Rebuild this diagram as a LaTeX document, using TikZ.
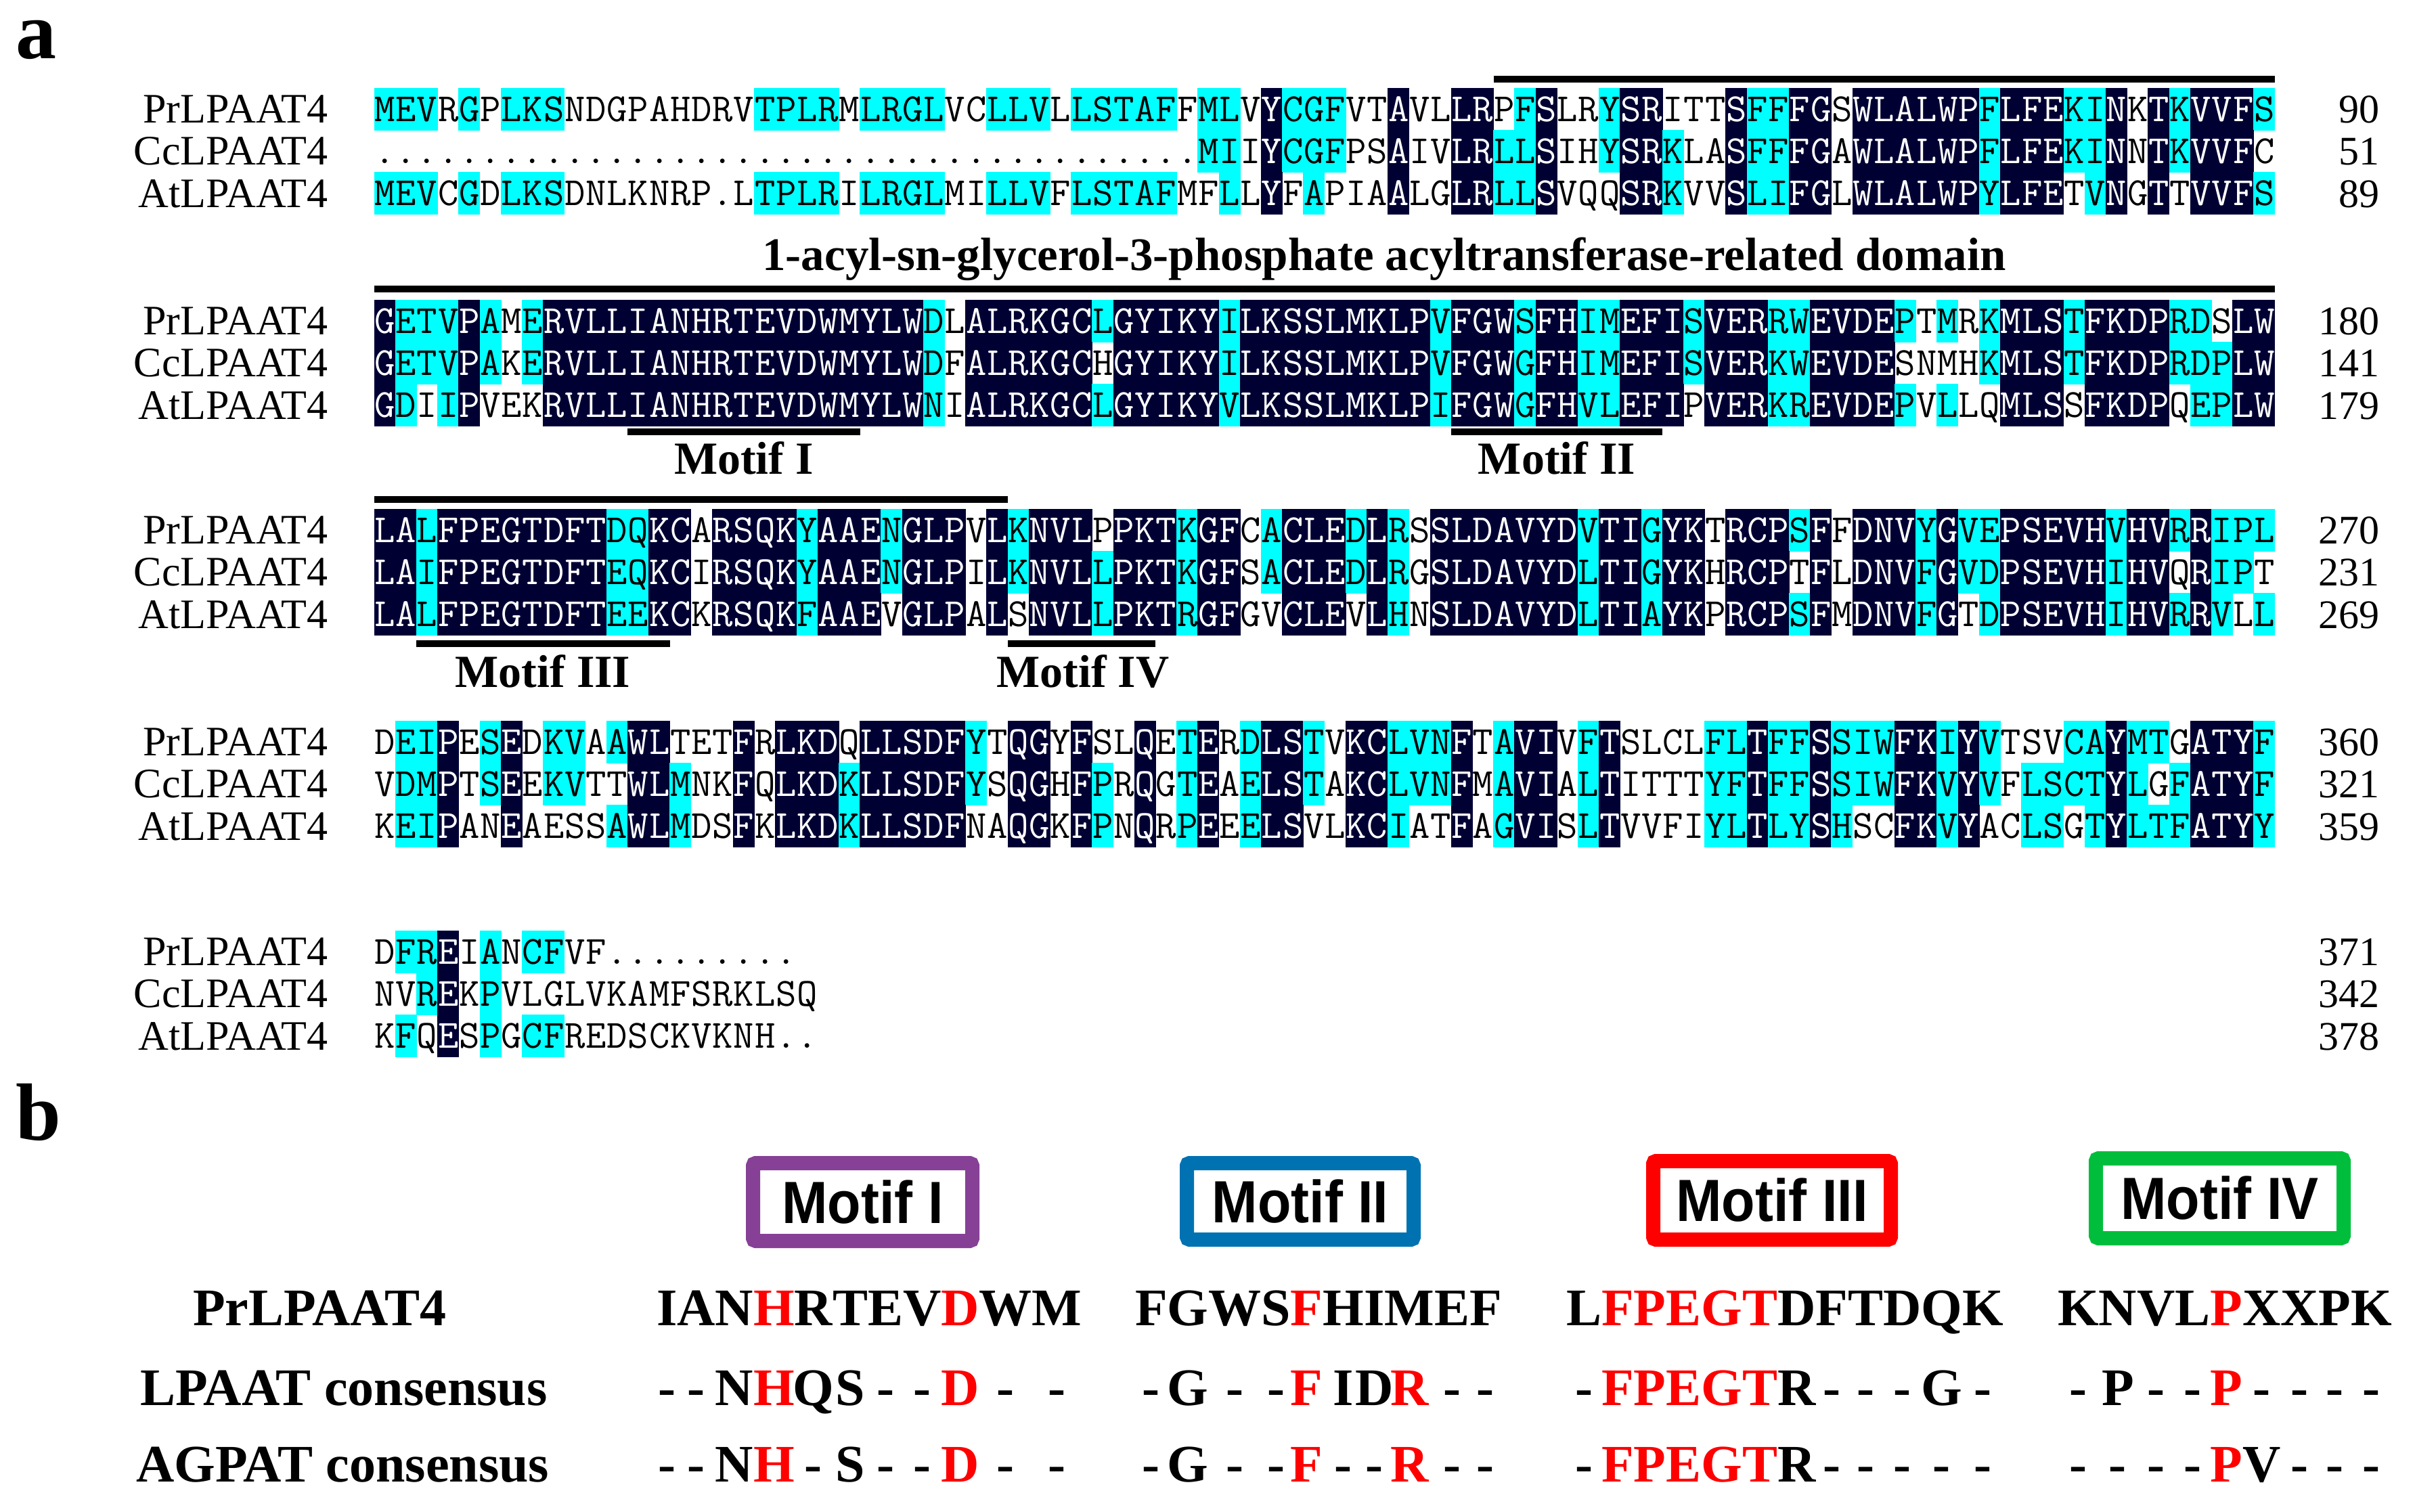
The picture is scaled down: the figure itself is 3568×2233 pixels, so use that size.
\documentclass[tikz,border=0pt]{standalone}
\usepackage{fontspec}
\setmainfont{Liberation Serif}
\newfontfamily\motfnt[FakeStretch=0.92]{Liberation Sans}
\definecolor{dkc}{RGB}{0,0,51}
\definecolor{cyc}{RGB}{0,255,255}
\definecolor{mpurple}{RGB}{134,64,150}
\definecolor{mblue}{RGB}{0,114,178}
\definecolor{mred}{RGB}{255,0,0}
\definecolor{mgreen}{RGB}{0,190,60}
\colorlet{kk}{black}
\colorlet{rr}{red}
\newcount\colnum
\newcommand\seqfnt{\ttfamily\fontsize{59}{59}\selectfont}
\newcommand\nmfnt{\fontsize{62}{62}\selectfont}
\newcommand\numfnt{\fontsize{60}{60}\selectfont}
\newcommand\ttlfnt{\bfseries\fontsize{69}{69}\selectfont}
\newcommand\motlfnt{\bfseries\fontsize{68}{68}\selectfont}
\newcommand\pbfnt{\bfseries\fontsize{78}{78}\selectfont}
\newcommand\boxfnt{\motfnt\bfseries\fontsize{88}{88}\selectfont}
\newcommand\panfnt{\bfseries\fontsize{120}{120}\selectfont}
\def\seqcell#1#2{%
  \pgfmathsetmacro\cx{553+31.2*\the\colnum}%
  \edef\cellname{\rowname\the\colnum}%
  \def\txc{black}%
  \if#2d\fill[dkc] (\cx-0.4,\rowtop-0.4) rectangle (\cx+31.6,\rowtop+62.7);\def\txc{white}\fi
  \if#2c\fill[cyc] (\cx-0.4,\rowtop-0.4) rectangle (\cx+31.6,\rowtop+62.7);\fi
  \node[seqch,text=\txc] (\cellname) at (\cx+15.6,\rowtop+49.2) {#1};}
\def\seqloop#1#2\relax#3#4\relax{%
  \seqcell{#1}{#3}%
  \advance\colnum by 1
  \ifx\relax#2\relax\else\seqloop#2\relax#4\relax\fi}
\newcommand\seqrow[5]{%
  \pgfmathsetmacro\rowtop{#2+62.3*#3}\def\rowname{#1}\colnum=0\relax
  \seqloop#4\relax#5\relax}
\newcommand\blocklabels[5]{%
  \node[nm] (#1n0) at (485,#2+51.6) {PrLPAAT4};
  \node[nm] (#1n1) at (485,#2+113.9) {CcLPAAT4};
  \node[nm] (#1n2) at (485,#2+176.2) {AtLPAAT4};
  \node[num] (#1k0) at (3516,#2+51.6) {#3};
  \node[num] (#1k1) at (3516,#2+113.9) {#4};
  \node[num] (#1k2) at (3516,#2+176.2) {#5};}
\newcommand\motifseq[3]{%
  \foreach \qa/\qac/\qb/\qbc/\qc/\qcc [count=\qi] in {#3}{%
    \ifnum\qi=1
      \node[pb,anchor=base west,text=\qac] (#1p\qi) at (#2,1958) {\qa};
    \else
      \pgfmathtruncatemacro\qj{\qi-1}%
      \node[pb,anchor=base west,text=\qac] (#1p\qi) at (#1p\qj.base east) {\qa};
    \fi
    \node[pb,anchor=base,text=\qbc] (#1l\qi) at ([yshift=-118pt]#1p\qi.base) {\qb};
    \node[pb,anchor=base,text=\qcc] (#1g\qi) at ([yshift=-231pt]#1p\qi.base) {\qc};
  }}
\begin{document}
\begin{tikzpicture}[x=1pt,y=-1pt,
  seqch/.style={font=\seqfnt,inner sep=0pt,anchor=base},
  nm/.style={font=\nmfnt,inner sep=0pt,anchor=base east},
  num/.style={font=\numfnt,inner sep=0pt,anchor=base east},
  bar/.style={line width=10pt,black},
  ttl/.style={font=\ttlfnt,inner sep=0pt,anchor=base},
  motl/.style={font=\motlfnt,inner sep=0pt,anchor=base},
  pb/.style={font=\pbfnt,inner sep=0pt,outer sep=0pt},
  mbox/.style={line width=21pt,fill=white,rounded corners=4pt,font=\boxfnt,inner sep=0pt,text=black},
  pan/.style={font=\panfnt,inner sep=0pt,anchor=base west,text height=0.66em,text depth=0pt}]
\useasboundingbox (0,0) rectangle (3568,2233);
\fill[white] (0,0) rectangle (3568,2233);
% panel labels
\node[pan] (la) at (23,86) {a};
\node[pan] (lb) at (23,1684) {b};
% ---------- block 1
\seqrow{aP}{130}{0}{MEVRGPLKSN DGPAHDRVTP LRMLRGLVCL LVLLSTAFFM LVYCGFVTAV LLRPFSLRYS RITTSFFFGS WLALWPFLFE KINKTKVVFS}{cccncncccn nnnnnnnncc ccnccccnnc ccncccccnc cndcccnndn nddncdnncd dnnndccddn ddddddcddd ccdndcdddc}
\seqrow{aC}{130}{1}{.......... .......... .......... .........M IIYCGFPSAI VLRLLSIHYS RKLASFFFGA WLALWPFLFE KINNTKVVFC}{nnnnnnnnnn nnnnnnnnnn nnnnnnnnnn nnnnnnnnnc cndcccnndn nddccdnncd dcnndccddn ddddddcddd ccdndcdddn}
\seqrow{aA}{130}{2}{MEVCGDLKSD NLKNRP.LTP LRILRGLMIL LVFLSTAFMF LLYFAPIAAL GLRLLSVQQS RKVVSLIFGL WLALWPYLFE TVNGTTVVFS}{cccncncccn nnnnnnnncc ccnccccnnc ccncccccnn cndncnnndn nddccdnnnd dcnndccddn ddddddcddd ncdndndddc}
\blocklabels{a}{130}{90}{51}{89}
\draw[bar] (2207,117) -- (3361,117);
% ---------- block 2
\node[ttl] (dom) at (2045,399) {1-acyl-sn-glycerol-3-phosphate acyltransferase-related domain};
\draw[bar] (553,427) -- (3361,427);
\seqrow{bP}{443}{0}{GETVPAMERV LLIANHRTEV DWMYLWDLAL RKGCLGYIKY ILKSSLMKLP VFGWSFHIME FISVERRWEV DEPTMRKMLS TFKDPRDSLW}{dcccdcncdd dddddddddd ddddddcndd ddddcddddd cddddddddd cdddcddccd ddcdddccdd ddcncncddd cddddccndd}
\seqrow{bC}{443}{1}{GETVPAKERV LLIANHRTEV DWMYLWDFAL RKGCHGYIKY ILKSSLMKLP VFGWGFHIME FISVERKWEV DESNMHKMLS TFKDPRDPLW}{dcccdcncdd dddddddddd ddddddcndd ddddnddddd cddddddddd cdddcddccd ddcdddccdd ddnnnncddd cddddcccdd}
\seqrow{bA}{443}{2}{GDIIPVEKRV LLIANHRTEV DWMYLWNIAL RKGCLGYIKY VLKSSLMKLP IFGWGFHVLE FIPVERKREV DEPVLLQMLS SFKDPQEPLW}{dcncdnnndd dddddddddd ddddddcndd ddddcddddd cddddddddd cdddcddccd ddndddccdd ddcncnnddd nddddnccdd}
\blocklabels{b}{443}{180}{141}{179}
\draw[bar] (927.4,637.5) -- (1270.6,637.5);
\draw[bar] (2144.2,637.5) -- (2456.2,637.5);
\node[motl] (m1) at (1099,700) {Motif I};
\node[motl] (m2) at (2300,700) {Motif II};
% ---------- block 3
\draw[bar] (553,737.5) -- (1489,737.5);
\seqrow{cP}{752}{0}{LALFPEGTDF TDQKCARSQK YAAENGLPVL KNVLPPKTKG FCACLEDLRS SLDAVYDVTI GYKTRCPSFF DNVYGVEPSE VHVHVRRIPL}{ddcddddddd dccddndddd cdddcdddnd cdddndddcd dncdddcdcn dddddddcdd cddndddcdn dddcdccddd ddcddcdccc}
\seqrow{cC}{752}{1}{LAIFPEGTDF TEQKCIRSQK YAAENGLPIL KNVLLPKTKG FSACLEDLRG SLDAVYDLTI GYKHRCPTFL DNVFGVDPSE VHIHVQRIPT}{ddcddddddd dccddndddd cdddcdddnd cdddcdddcd dncdddcdcn dddddddcdd cddndddndn dddcdccddd ddcddndccn}
\seqrow{cA}{752}{2}{LALFPEGTDF TEEKCKRSQK FAAEVGLPAL SNVLLPKTRG FGVCLEVLHN SLDAVYDLTI AYKPRCPSFM DNVFGTDPSE VHIHVRRVLL}{ddcddddddd dccddndddd cdddndddnd ndddcdddcd dnndddndcn dddddddcdd cddndddcdn dddcdncddd ddcddcdcnc}
\blocklabels{c}{752}{270}{231}{269}
\draw[bar] (615.4,951) -- (989.8,951);
\draw[bar] (1489,951) -- (1707.4,951);
\node[motl] (m3) at (802,1015) {Motif III};
\node[motl] (m4) at (1600,1015) {Motif IV};
% ---------- block 4
\seqrow{dP}{1065}{0}{DEIPESEDKV AAWLTETFRL KDQLLSDFYT QGYFSLQETE RDLSTVKCLV NFTAVIVFTS LCLFLTFFSS IWFKIYVTSV CAYMTGATYF}{nccdncdncc ncddnnndnd ddndddddcn ddndnndncd ncddcnddcc cdncddncdn nnnccdccdc ccddcdcnnn ccdccndddc}
\seqrow{dC}{1065}{1}{VDMPTSEEKV TTWLMNKFQL KDKLLSDFYS QGHFPRQGTE AELSTAKCLV NFMAVIALTI TTTYFTFFSS IWFKVYVFLS CTYLGFATYF}{nccdncdncc nnddcnndnd ddcdddddcn ddndcndncd ncddcnddcc cdncddncdn nnnccdccdc ccddcdcncc ccdcncdddc}
\seqrow{dA}{1065}{2}{KEIPANEAES SAWLMDSFKL KDKLLSDFNA QGKFPNQRPE EELSVLKCIA TFAGVISLTV VFIYLTLYSH SCFKVYACLS GTYLTFATYY}{nccdnndnnn ncddcnndnd ddcdddddnn ddndcndncd ncddnnddcn ndncddncdn nnnccdccdc nnddcdnncc ncdcccdddc}
\blocklabels{d}{1065}{360}{321}{359}
% ---------- block 5
\seqrow{eP}{1375}{0}{DFREIANCFV F.........}{nccdncnccn nnnnnnnnnn}
\seqrow{eC}{1375}{1}{NVREKPVLGL VKAMFSRKLS Q}{nncdncnnnn nnnnnnnnnn n}
\seqrow{eA}{1375}{2}{KFQESPGCFR EDSCKVKNH. .}{ncndncnccn nnnnnnnnnn n}
\blocklabels{e}{1375}{371}{342}{378}
% ---------- panel b
\node[mbox,draw=mpurple,minimum width=324pt,minimum height=115pt] (bx1) at (1274.5,1776) {Motif I};
\node[mbox,draw=mblue,minimum width=335pt,minimum height=113pt] (bx2) at (1921,1775) {Motif II};
\node[mbox,draw=mred,minimum width=351pt,minimum height=116pt] (bx3) at (2618,1773.5) {Motif III};
\node[mbox,draw=mgreen,minimum width=366pt,minimum height=118pt] (bx4) at (3279.5,1770.5) {Motif IV};
\node[pb,anchor=base west] (lpr) at (285,1958) {PrLPAAT4};
\node[pb,anchor=base west] (llp) at (207,2076) {LPAAT consensus};
\node[pb,anchor=base west] (lag) at (201,2189) {AGPAT consensus};
\motifseq{q1}{970}{I/kk/-/kk/-/kk, A/kk/-/kk/-/kk, N/kk/N/kk/N/kk, H/rr/H/rr/H/rr, R/kk/Q/kk/-/kk, T/kk/S/kk/S/kk, E/kk/-/kk/-/kk, V/kk/-/kk/-/kk, D/rr/D/rr/D/rr, W/kk/-/kk/-/kk, M/kk/-/kk/-/kk}
\motifseq{q2}{1677}{F/kk/-/kk/-/kk, G/kk/G/kk/G/kk, W/kk/-/kk/-/kk, S/kk/-/kk/-/kk, F/rr/F/rr/F/rr, H/kk/I/kk/-/kk, I/kk/D/kk/-/kk, M/kk/R/rr/R/rr, E/kk/-/kk/-/kk, F/kk/-/kk/-/kk}
\motifseq{q3}{2314}{L/kk/-/kk/-/kk, F/rr/F/rr/F/rr, P/rr/P/rr/P/rr, E/rr/E/rr/E/rr, G/rr/G/rr/G/rr, T/rr/T/rr/T/rr, D/kk/R/kk/R/kk, F/kk/-/kk/-/kk, T/kk/-/kk/-/kk, D/kk/-/kk/-/kk, Q/kk/G/kk/-/kk, K/kk/-/kk/-/kk}
\motifseq{q4}{3040}{K/kk/-/kk/-/kk, N/kk/P/kk/-/kk, V/kk/-/kk/-/kk, L/kk/-/kk/-/kk, P/rr/P/rr/P/rr, X/kk/-/kk/V/kk, X/kk/-/kk/-/kk, P/kk/-/kk/-/kk, K/kk/-/kk/-/kk}
\end{tikzpicture}
\end{document}
